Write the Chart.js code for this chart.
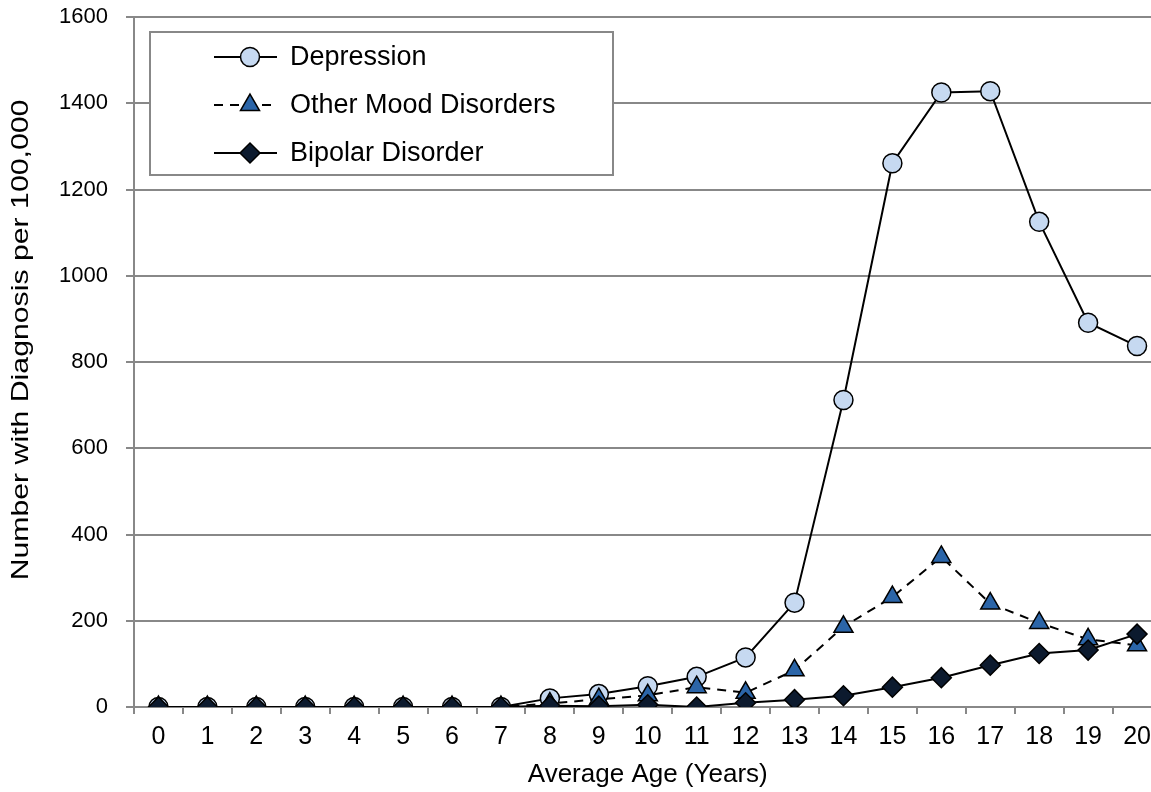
<!DOCTYPE html>
<html><head><meta charset="utf-8">
<script src="https://cdn.jsdelivr.net/npm/chart.js@4/dist/chart.umd.min.js"></script>
<style>
html,body{margin:0;padding:0;background:#fff;overflow:hidden;width:1151px;height:792px}
canvas{display:block}
</style></head>
<body>
<canvas id="c" width="1174" height="792" style="width:1174px;height:792px"></canvas>
<script>
const ages = ['0','1','2','3','4','5','6','7','8','9','10','11','12','13','14','15','16','17','18','19','20'];
const depression = [0,0,0,0,0,0,0,0,20,30,48,70,115,242,712,1261,1425,1428,1125,891,837];
const otherMood  = [0,0,0,0,0,0,0,0,8,18,27,46,33,85,186,255,348,240,195,157,143];
const bipolar    = [0,0,0,0,0,0,0,0,3,2,5,0,10,17,26,46,68,97,124,132,169];
const seriesNames = ['Depression','Other Mood Disorders','Bipolar Disorder'];
const yTicks = [0,200,400,600,800,1000,1200,1400,1600];
const yTitle = 'Number with Diagnosis per 100,000';
const xTitle = 'Average Age (Years)';

const FONT = "'Liberation Sans', Arial, sans-serif";
const GRID = '#888888';
const PLOT_LEFT = 134, PLOT_TOP = 17, PLOT_BOTTOM = 707, CANVAS_H = 792;

const titlesPlugin = {
  id: 'titles',
  afterDraw(chart) {
    const ctx = chart.ctx, a = chart.chartArea;
    ctx.save();
    ctx.fillStyle = '#000';
    ctx.textAlign = 'center';
    ctx.textBaseline = 'middle';
    ctx.font = '26px ' + FONT;
    ctx.fillText(xTitle, (a.left + a.right) / 2, 775);
    ctx.font = '24px ' + FONT;
    ctx.save();
    ctx.translate(21, 340);
    ctx.rotate(-Math.PI / 2);
    ctx.scale(1.26, 1);
    ctx.fillText(yTitle, 0, 0);
    ctx.restore();
    ctx.restore();
  }
};

function drawMarker(ctx, style, r, x, y, fill) {
  ctx.beginPath();
  if (style === 'circle') {
    ctx.arc(x, y, r, 0, Math.PI * 2);
  } else if (style === 'triangle') {
    for (let k = 0; k < 3; k++) {
      const ang = k * 2 * Math.PI / 3;
      const px = x + Math.sin(ang) * r, py = y - Math.cos(ang) * r;
      if (k === 0) ctx.moveTo(px, py); else ctx.lineTo(px, py);
    }
  } else {
    ctx.moveTo(x - r, y); ctx.lineTo(x, y - r); ctx.lineTo(x + r, y); ctx.lineTo(x, y + r);
  }
  ctx.closePath();
  ctx.fillStyle = fill;
  ctx.fill();
  ctx.lineWidth = 1.5;
  ctx.strokeStyle = '#000';
  ctx.stroke();
}

const legendPlugin = {
  id: 'boxLegend',
  afterDraw(chart) {
    const ctx = chart.ctx;
    ctx.save();
    const bx = 150, by = 32, bw = 463, bh = 143;
    ctx.fillStyle = '#fff';
    ctx.fillRect(bx, by, bw, bh);
    ctx.strokeStyle = GRID;
    ctx.lineWidth = 2;
    ctx.strokeRect(bx, by, bw, bh);
    const rows = [57, 105, 153];
    chart.data.datasets.forEach((ds, i) => {
      const y = rows[i];
      ctx.beginPath();
      ctx.setLineDash(ds.borderDash || []);
      ctx.strokeStyle = '#000';
      ctx.lineWidth = 2;
      ctx.moveTo(214, y); ctx.lineTo(277, y);
      ctx.stroke();
      ctx.setLineDash([]);
      drawMarker(ctx, ds.pointStyle, ds.pointRadius, 250, y, ds.pointBackgroundColor);
      ctx.fillStyle = '#000';
      ctx.font = '27px ' + FONT;
      ctx.textAlign = 'left';
      ctx.textBaseline = 'middle';
      ctx.fillText(ds.label, 290, y + 1);
    });
    ctx.restore();
  }
};

new Chart(document.getElementById('c'), {
  type: 'line',
  data: {
    labels: ages,
    datasets: [
      { label: seriesNames[0], data: depression, order: 3,
        borderColor: '#000', borderWidth: 2, tension: 0,
        pointStyle: 'circle', pointRadius: 9.5, pointBackgroundColor: '#C6D9F1',
        pointBorderColor: '#000', pointBorderWidth: 1.5 },
      { label: seriesNames[1], data: otherMood, order: 2,
        borderColor: '#000', borderWidth: 2, borderDash: [9, 7], tension: 0,
        pointStyle: 'triangle', pointRadius: 11, pointBackgroundColor: '#2B65A8',
        pointBorderColor: '#000', pointBorderWidth: 1.5 },
      { label: seriesNames[2], data: bipolar, order: 1,
        borderColor: '#000', borderWidth: 2, tension: 0,
        pointStyle: 'rectRot', pointRadius: 10, pointBackgroundColor: '#0C1A2E',
        pointBorderColor: '#000', pointBorderWidth: 1.5 }
    ]
  },
  options: {
    responsive: false,
    animation: false,
    devicePixelRatio: 1,
    layout: { padding: { top: PLOT_TOP, right: 2, left: 0, bottom: 0 } },
    plugins: { legend: { display: false }, tooltip: { enabled: false } },
    scales: {
      x: {
        offset: true,
        grid: { offset: true, drawOnChartArea: false, drawTicks: true, tickLength: 7, color: GRID, lineWidth: 2 },
        border: { display: true, color: GRID, width: 2 },
        ticks: { font: { family: FONT, size: 25 }, color: '#000', padding: 8, maxRotation: 0, autoSkip: false },
        afterFit(s) { s.height = CANVAS_H - PLOT_BOTTOM; s.paddingLeft = 0; s.paddingRight = 0; }
      },
      y: {
        min: yTicks[0], max: yTicks[yTicks.length - 1],
        grid: { color: GRID, lineWidth: 2, drawTicks: true, tickLength: 8 },
        border: { display: true, color: GRID, width: 2 },
        afterBuildTicks(s) { s.ticks = yTicks.map(v => ({ value: v })); },
        ticks: { font: { family: FONT, size: 22 }, color: '#000', padding: 18,
                 callback: v => String(v) },
        afterFit(s) { s.width = PLOT_LEFT; s.paddingTop = 0; s.paddingBottom = 0; }
      }
    }
  },
  plugins: [titlesPlugin, legendPlugin]
});
</script>
</body></html>
